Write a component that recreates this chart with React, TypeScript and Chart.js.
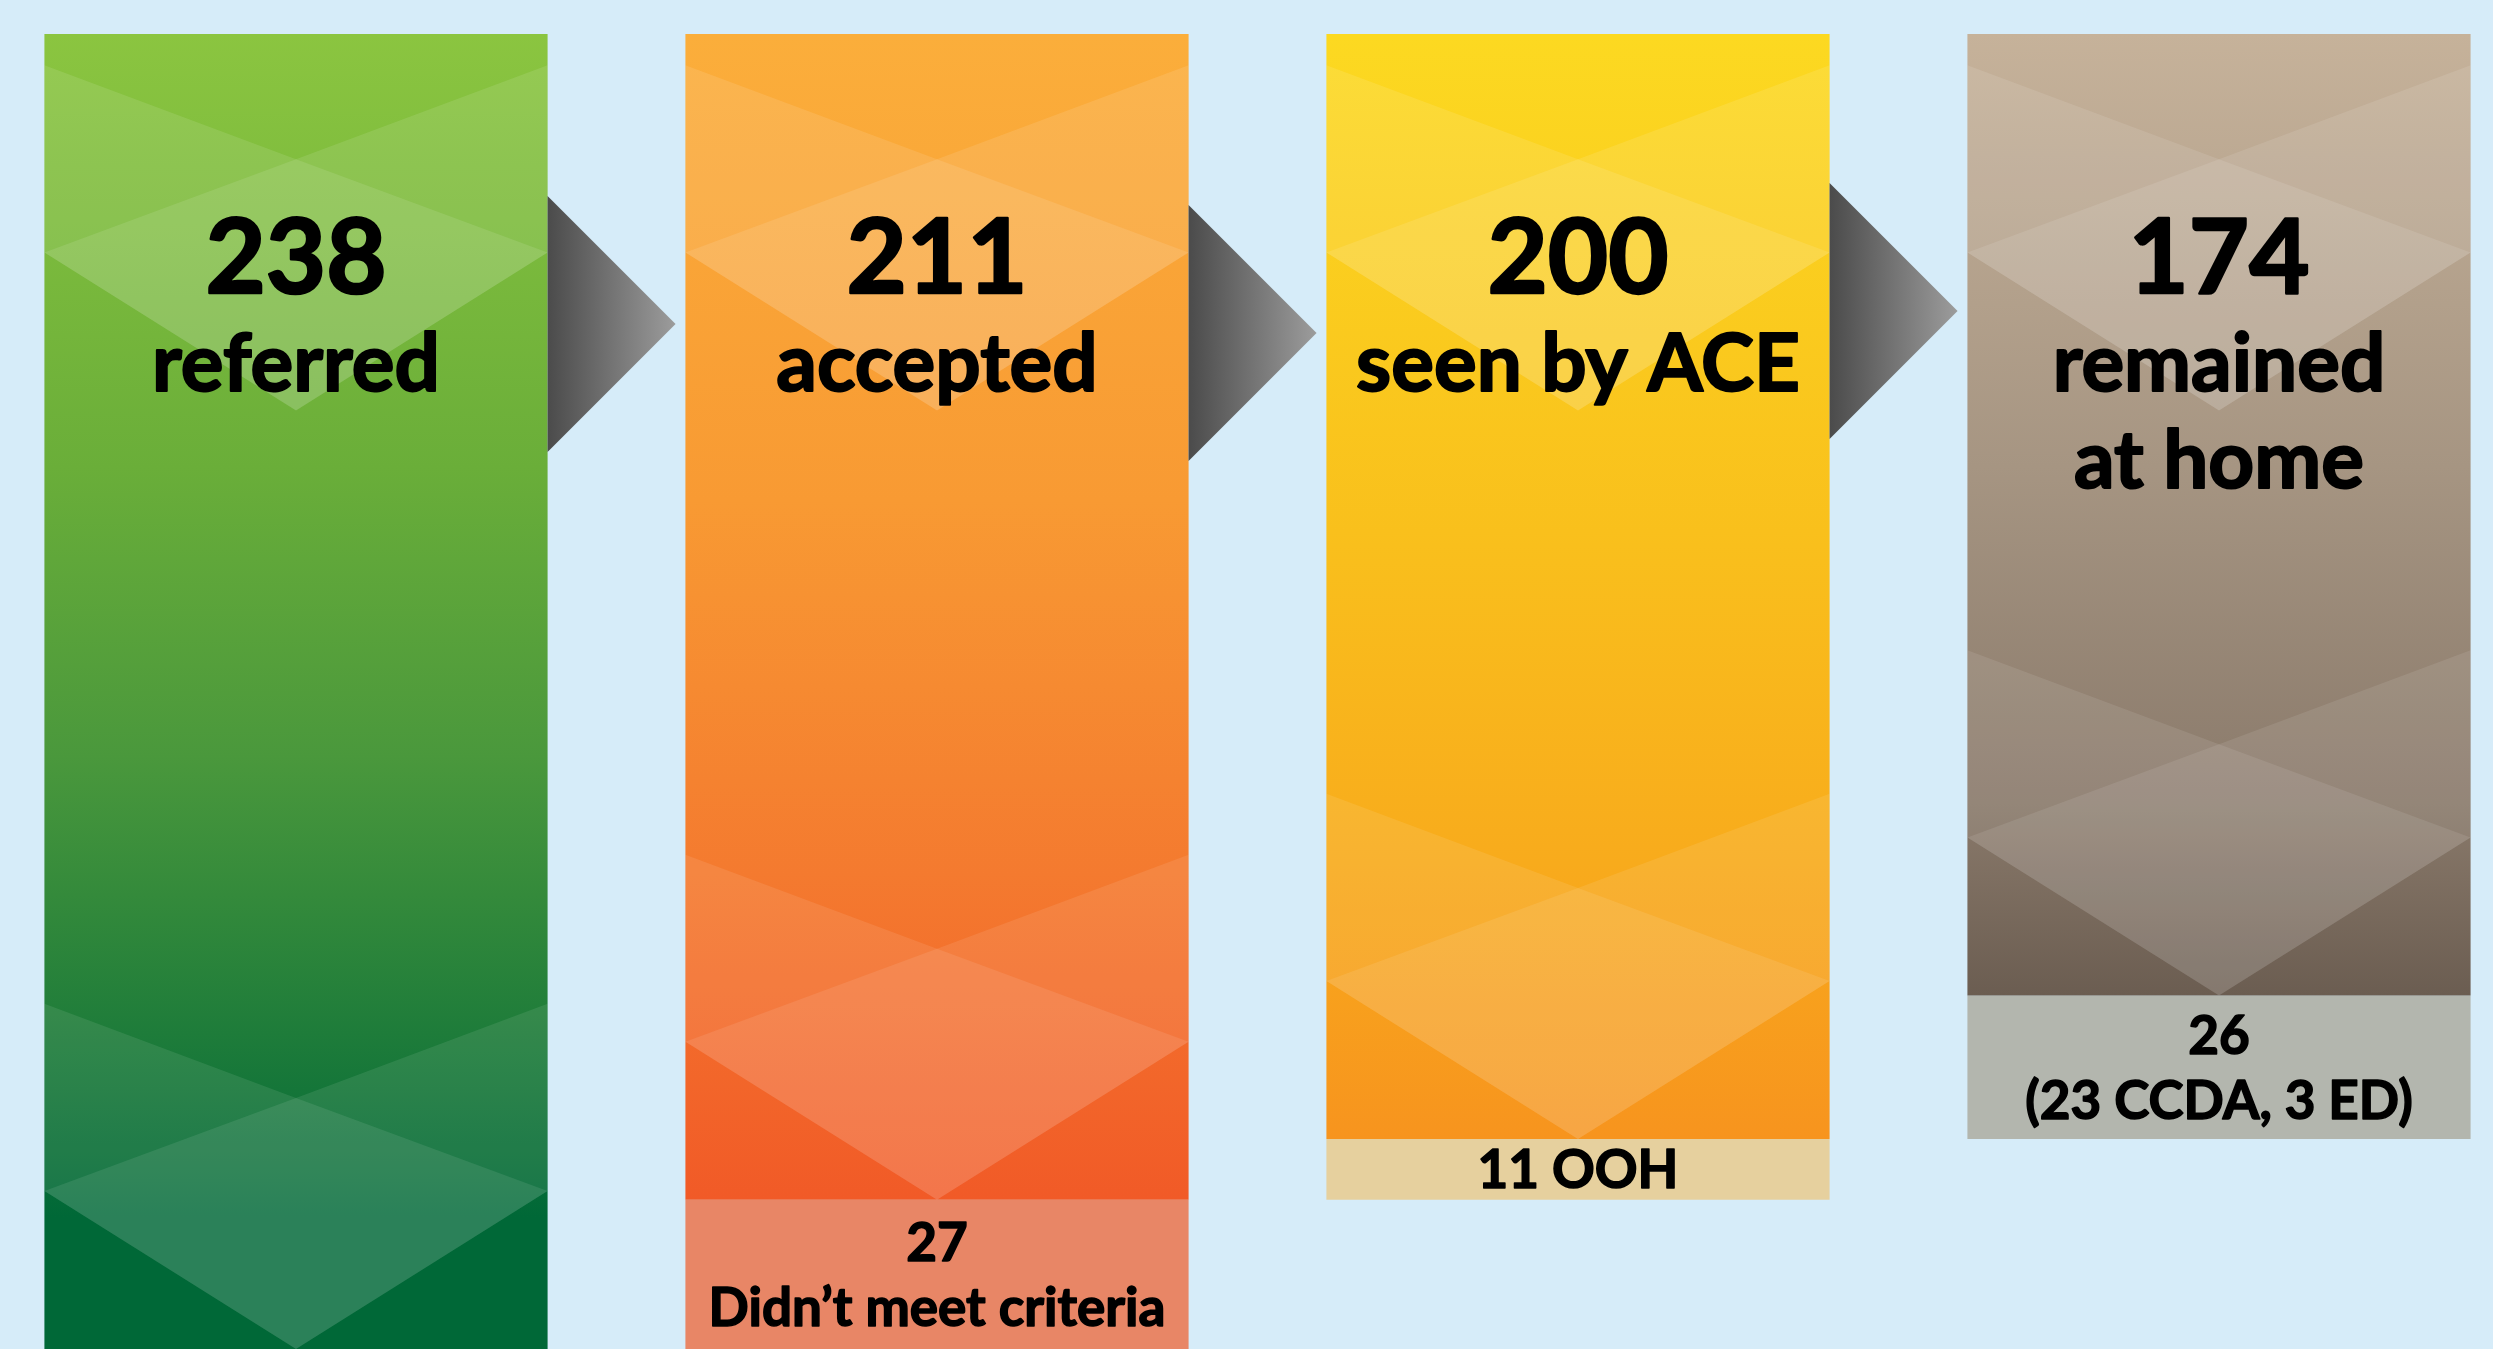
import React, { useEffect, useRef } from "react";
import { Chart, registerables } from "chart.js";

Chart.register(...registerables);

// ---------- data ----------
const categories = ["referred", "accepted", "seen by ACE", "remained at home"];
const labelLines = [["referred"], ["accepted"], ["seen by ACE"], ["remained", "at home"]];
const mainValues = [238, 211, 200, 174];
const lostValues = [0, 27, 11, 26];
const lostNotes = ["", "Didn\u2019t meet criteria", "OOH", "(23 CCDA, 3 ED)"];
const lostNoteInline = [false, false, true, false];

// ---------- styles ----------
const BG = "#d6ecf9";
const gradientStops: [number, string][][] = [
  [[0, "#8bc540"], [0.33, "#6aae39"], [0.55, "#4a983c"], [0.76, "#1e7c3a"], [0.9, "#006837"], [1, "#006837"]],
  [[0, "#fbae3b"], [0.4, "#f89a33"], [0.72, "#f47a2f"], [1, "#f15a27"]],
  [[0, "#fcd921"], [0.45, "#f9c01c"], [0.75, "#f8ab1c"], [1, "#f7941e"]],
  [[0, "#c6b29a"], [0.45, "#a69582"], [0.8, "#8a7a6b"], [1, "#6b5d51"]],
];
const boxColors = ["#e88666", "#e88666", "#e6d09e", "#b3b6ae"];
const FONT = "Lato, 'Open Sans', sans-serif";
const ARROW_OFFSETS = [290, 299, 277];

function mainGradient(c: any) {
  const chart = c.chart;
  const i = c.dataIndex;
  if (!chart.chartArea || i === undefined) return gradientStops[0][0][1];
  const y = chart.scales.y;
  const top = y.getPixelForValue(0);
  const bottom = y.getPixelForValue(mainValues[i]);
  const g = chart.ctx.createLinearGradient(0, top, 0, bottom);
  for (const [o, col] of gradientStops[i]) g.addColorStop(o, col);
  return g;
}

function drawPattern(ctx: CanvasRenderingContext2D, L: number, R: number, y0: number, w: number, alpha: number) {
  const c = (L + R) / 2;
  const d1 = 0.187 * w, d2 = 0.372 * w, d3 = 0.686 * w;
  ctx.fillStyle = `rgba(255,255,255,${alpha})`;
  ctx.beginPath();
  ctx.moveTo(L, y0);
  ctx.lineTo(c, y0 + d1);
  ctx.lineTo(R, y0);
  ctx.lineTo(R, y0 + d2);
  ctx.lineTo(c, y0 + d3);
  ctx.lineTo(L, y0 + d2);
  ctx.closePath();
  ctx.fill();
  ctx.beginPath();
  ctx.moveTo(L, y0 + d2);
  ctx.lineTo(c, y0 + d1);
  ctx.lineTo(R, y0 + d2);
  ctx.lineTo(c, y0 + d3);
  ctx.closePath();
  ctx.fill();
}

function boldText(ctx: CanvasRenderingContext2D, s: string, x: number, y: number, stroke: number) {
  ctx.fillText(s, x, y);
  ctx.lineWidth = stroke;
  ctx.strokeText(s, x, y);
}

const decorPlugin = {
  id: "decor",
  afterDatasetsDraw(chart: any) {
    const ctx: CanvasRenderingContext2D = chart.ctx;
    const mainMeta = chart.getDatasetMeta(0);
    const lostMeta = chart.getDatasetMeta(1);

    // overlays
    mainMeta.data.forEach((bar: any) => {
      const { x, y, base, width } = bar.getProps(["x", "y", "base", "width"], true);
      const L = x - width / 2, R = x + width / 2;
      const top = Math.min(y, base), bottom = Math.max(y, base);
      ctx.save();
      ctx.beginPath();
      ctx.rect(L, top, width, bottom - top);
      ctx.clip();
      drawPattern(ctx, L, R, top + 0.062 * width, width, 0.1);
      drawPattern(ctx, L, R, bottom - 0.686 * width, width, 0.09);
      ctx.restore();
    });

    // arrows
    for (let i = 0; i < mainMeta.data.length - 1; i++) {
      const bar = mainMeta.data[i];
      const { x, y, base, width } = bar.getProps(["x", "y", "base", "width"], true);
      const R = x + width / 2;
      const top = Math.min(y, base);
      const mid = top + ARROW_OFFSETS[i];
      const half = 128, len = 128;
      const g = ctx.createLinearGradient(R, 0, R + len, 0);
      g.addColorStop(0, "#4b4b4b");
      g.addColorStop(1, "#9c9c9c");
      ctx.fillStyle = g;
      ctx.beginPath();
      ctx.moveTo(R, mid - half);
      ctx.lineTo(R + len, mid);
      ctx.lineTo(R, mid + half);
      ctx.closePath();
      ctx.fill();
    }

    // texts on main bars
    ctx.save();
    ctx.fillStyle = "#000";
    ctx.strokeStyle = "#000";
    ctx.lineJoin = "round";
    ctx.textAlign = "center";
    ctx.textBaseline = "alphabetic";
    mainMeta.data.forEach((bar: any, i: number) => {
      const { x, y, base } = bar.getProps(["x", "y", "base"], true);
      const top = Math.min(y, base);
      ctx.font = `bold 104px ${FONT}`;
      boldText(ctx, String(mainValues[i]), x, top + 259, 2.5);
      ctx.font = `bold 80px ${FONT}`;
      labelLines[i].forEach((ln, k) => boldText(ctx, ln, x, top + 357 + 97 * k, 2));
    });

    // texts on lost boxes
    lostMeta.data.forEach((bar: any, i: number) => {
      if (!lostValues[i]) return;
      const { x, y, base } = bar.getProps(["x", "y", "base"], true);
      const top = Math.min(y, base), bottom = Math.max(y, base);
      const lines = lostNoteInline[i] ? [`${lostValues[i]} ${lostNotes[i]}`] : [`${lostValues[i]}`, lostNotes[i]];
      const size = 53;
      const capH = 0.717 * size;
      const lh = 65;
      const blockH = capH + (lines.length - 1) * lh;
      const center = (top + Math.min(bottom, chart.height)) / 2;
      const first = center - blockH / 2 + capH;
      ctx.font = `bold ${size}px ${FONT}`;
      lines.forEach((ln, k) => boldText(ctx, ln, x, first + lh * k, 1.5));
    });
    ctx.restore();
  },
};

export default function App() {
  const ref = useRef<HTMLCanvasElement | null>(null);
  useEffect(() => {
    if (!ref.current) return;
    const chart = new Chart(ref.current, {
      type: "bar",
      data: {
        labels: categories,
        datasets: [
          { label: "main", data: mainValues, backgroundColor: mainGradient as any, borderWidth: 0, stack: "s", clip: false as any },
          { label: "lost", data: lostValues, backgroundColor: boxColors, borderWidth: 0, stack: "s", clip: false as any },
        ],
      },
      options: {
        animation: false,
        responsive: true,
        maintainAspectRatio: false,
        layout: { padding: { top: 34, left: 296, right: 274, bottom: 0 } },
        plugins: { legend: { display: false }, tooltip: { enabled: false } },
        datasets: { bar: { categoryPercentage: 1, barPercentage: 0.785 } } as any,
        scales: {
          x: { type: "category", offset: false, display: false, stacked: true, grid: { display: false } },
          y: { type: "linear", display: false, stacked: true, reverse: true, min: 0, max: 238 },
        },
      },
      plugins: [decorPlugin],
    });
    return () => chart.destroy();
  }, []);
  return (
    <div style={{ position: "absolute", left: 0, top: 0, width: 2493, height: 1349, background: BG, overflow: "hidden" }}>
      <canvas ref={ref} />
    </div>
  );
}
